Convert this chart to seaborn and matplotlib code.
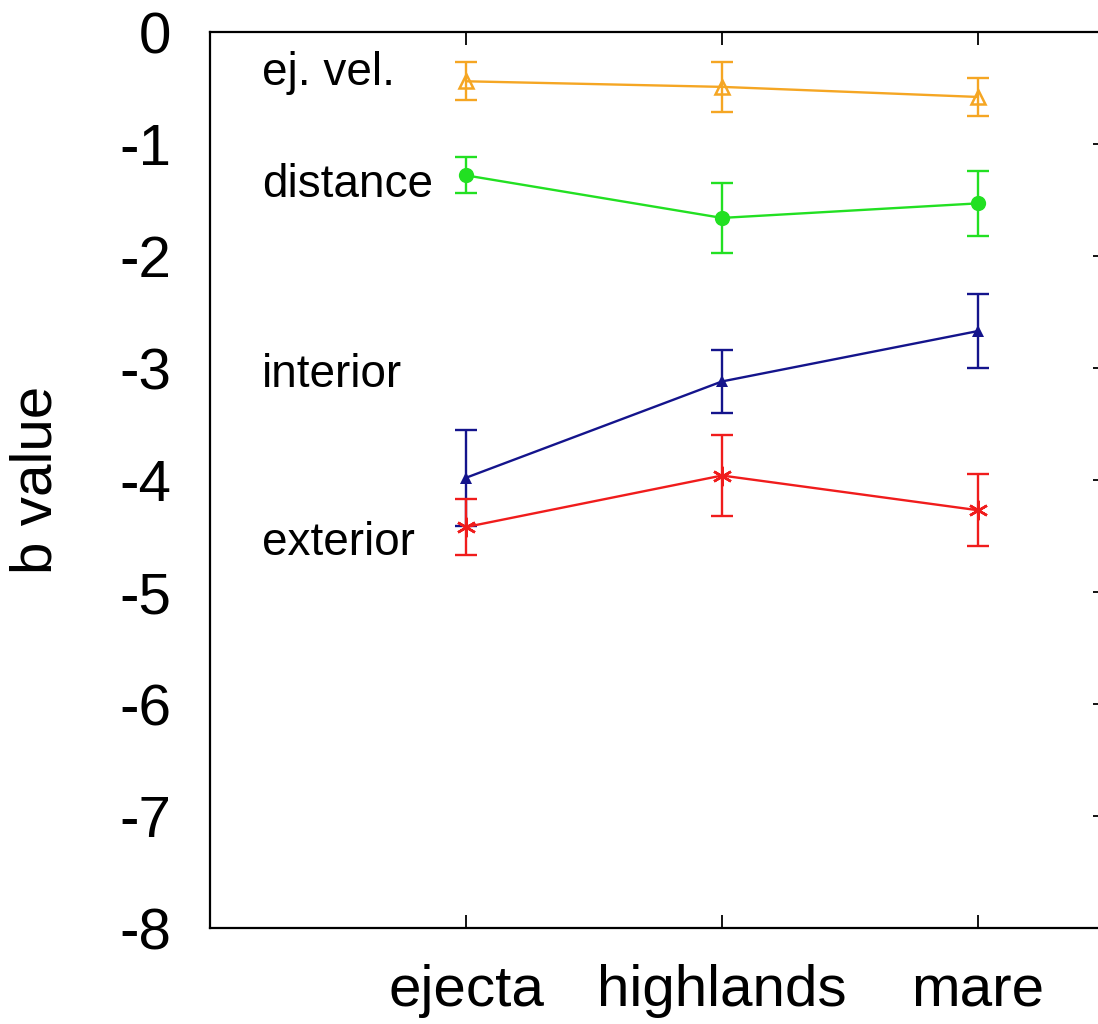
import matplotlib
matplotlib.use("Agg")
import matplotlib.pyplot as plt
import seaborn as sns
import pandas as pd
import numpy as np

# ---- data ----
categories = ["ejecta", "highlands", "mare"]
series_names = ["ej. vel.", "distance", "interior", "exterior"]
ejvel_vals = [-0.44, -0.49, -0.58]
ejvel_err = [0.17, 0.22, 0.17]
distance_vals = [-1.28, -1.66, -1.53]
distance_err = [0.16, 0.31, 0.29]
interior_vals = [-3.98, -3.12, -2.67]
interior_err = [0.43, 0.28, 0.33]
exterior_vals = [-4.42, -3.96, -4.27]
exterior_err = [0.25, 0.36, 0.32]
yticks = [0, -1, -2, -3, -4, -5, -6, -7, -8]

sns.set_theme(style="white")
plt.rcParams["font.family"] = ["Liberation Sans", "DejaVu Sans"]

fig = plt.figure(figsize=(10.98, 10.24), dpi=100)
ax = fig.add_axes([210 / 1098, 96 / 1024, 896 / 1098, 896 / 1024])

xpos = np.arange(1, len(categories) + 1)

styles = [
    (ejvel_vals, ejvel_err, "#f5a623", dict(marker="^", markersize=10, markerfacecolor="none",
                                              markeredgecolor="#f5a623", markeredgewidth=1.8)),
    (distance_vals, distance_err, "#22e022", dict(marker="o", markersize=11, markeredgewidth=0)),
    (interior_vals, interior_err, "#14148c", dict(marker="^", markersize=8, markeredgewidth=0)),
    (exterior_vals, exterior_err, "#f01c1c", dict(marker=(6, 2, 0), markersize=14,
                                                   markeredgecolor="#f01c1c", markeredgewidth=1.8)),
]

for name, (vals, errs, color, mk) in zip(series_names, styles):
    df = pd.DataFrame({"x": xpos, "y": vals})
    sns.lineplot(data=df, x="x", y="y", ax=ax, color=color, linewidth=1.7, **mk)
    ax.errorbar(xpos, vals, yerr=errs, fmt="none", ecolor=color, elinewidth=1.7,
                capsize=8, capthick=1.7, zorder=1)

# series labels
label_pos = [(-0.473), (-1.47), (-3.17), (-4.67)]
for name, yb in zip(series_names, label_pos):
    ax.text(0.203, yb, name, fontsize=33, va="baseline", ha="left", color="black")

ax.set_xlim(0, 3.5)
ax.set_ylim(-8, 0)
ax.set_xticks(xpos)
ax.set_xticklabels(categories)
ax.set_yticks(yticks)
ax.set_yticklabels([str(t) for t in yticks])
ax.set_xlabel("")
ax.set_ylabel("b value", fontsize=42, labelpad=40, color="black")

ax.tick_params(axis="both", which="major", direction="in", length=9.5, width=1.3,
               top=True, right=True, bottom=True, left=False, labelsize=42,
               color="black", labelcolor="black")
ax.tick_params(axis="y", pad=28)
ax.tick_params(axis="x", pad=26)

for sp in ax.spines.values():
    sp.set_visible(True)
    sp.set_color("black")
    sp.set_linewidth(1.6)

fig.savefig("out.png", dpi=100, facecolor="white")
